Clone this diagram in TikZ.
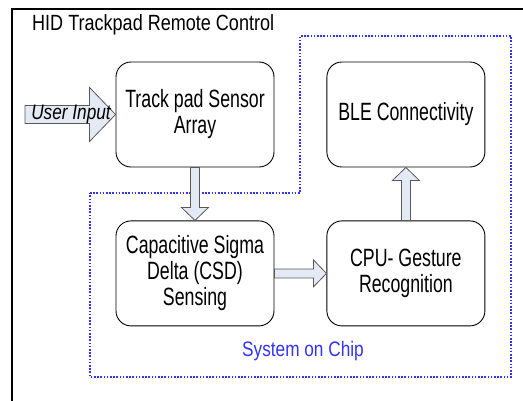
\documentclass[tikz,border=0pt]{standalone}
\usepackage{fontspec}
\setmainfont{Liberation Sans}[FakeStretch=0.82]
\newfontfamily\boxfont{Liberation Sans}[FakeStretch=0.71]
\usetikzlibrary{positioning,calc}
\definecolor{socblue}{RGB}{51,51,255}
\definecolor{arrowfill}{RGB}{228,234,244}

\begin{document}
\begin{tikzpicture}
	[x=1pt, y=-1pt,
	block/.style={rectangle, draw=black, line width=0.9pt, rounded corners=15pt, minimum width=158pt, minimum height=105pt, inner sep=0pt, align=center, font=\boxfont\fontsize{25}{26}\selectfont},
	socline/.style={draw=socblue, line width=1.4pt, dash pattern=on 1.6pt off 1.6pt},
	fatarrow/.style n args={3}{draw=black!65, line width=0.8pt, fill=arrowfill,
		to path={($(\tikztotarget)!#2!(\tikztostart)$) coordinate (fabase)
			($(\tikztostart)!#1!90:(\tikztotarget)$)
			-- ($(fabase)!#1!-90:(\tikztostart)$)
			-- ($(fabase)!#3!-90:(\tikztostart)$)
			-- (\tikztotarget)
			-- ($(fabase)!#3!90:(\tikztostart)$)
			-- ($(fabase)!#1!90:(\tikztostart)$)
			-- ($(\tikztostart)!#1!-90:(\tikztotarget)$)
			-- cycle}}]
	\useasboundingbox (0,0) rectangle (523,400);
	\clip (0,0) rectangle (523,400);
	% outer frame and title
	\draw[line width=1.4pt] (12,430) |- (540,9);
	\node[anchor=base west, inner sep=0pt, font=\fontsize{22}{24}\selectfont] (title) at (32,30) {HID Trackpad Remote Control};
	% system on chip outline
	\draw[socline] (90,193) -- (300,193) -- (300,36) -- (511,36) -- (511,377) -- (90,377) -- cycle;
	\node[text=socblue, font=\fontsize{21}{23}\selectfont] (soc) at (303,351) {System on Chip};
	% blocks
	\node [block] (track) at (195,114.5) {Track pad Sensor\\Array};
	\node [block, right=52pt of track] (ble) {BLE Connectivity};
	\node [block, below=53pt of track] (csd) {Capacitive Sigma\\Delta (CSD)\\Sensing};
	\node [block, right=52pt of csd] (cpu) {CPU- Gesture\\Recognition};
	% arrows
	\coordinate (userin) at (25,114.5);
	\draw[fatarrow={9pt}{26pt}{27pt}] (userin) to (track.west);
	\node[font=\itshape\fontsize{21}{23}\selectfont] (userlbl) at (71,114) {User Input};
	\draw[fatarrow={4.5pt}{13pt}{13.5pt}] (track.south) to (csd.north);
	\draw[fatarrow={4.5pt}{13pt}{13.5pt}] (csd.east) to (cpu.west);
	\draw[fatarrow={4.5pt}{13pt}{13.5pt}] (cpu.north) to (ble.south);
\end{tikzpicture}
\end{document}
